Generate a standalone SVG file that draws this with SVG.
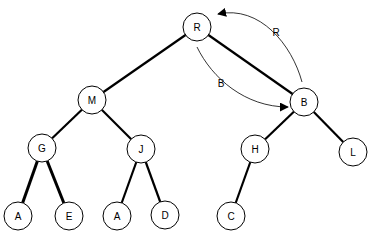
<svg xmlns="http://www.w3.org/2000/svg" width="372" height="233" viewBox="0 0 372 233">
<defs>
<style>
.n circle{fill:#fff;stroke:#000;stroke-width:1}
.n text{font-family:"Liberation Sans",Arial,sans-serif;font-size:10px;text-anchor:middle;fill:#000}
.e{stroke:#000;stroke-width:2.2;fill:none}
.t{stroke:#000;stroke-width:3;fill:none}
.c{stroke:#000;stroke-width:0.8;fill:none}
.lbl{font-family:"Liberation Sans",Arial,sans-serif;font-size:10px;text-anchor:middle;fill:#000}
</style>
<marker id="ah" viewBox="0 0 10 10" refX="9" refY="5" markerWidth="9" markerHeight="9" markerUnits="userSpaceOnUse" orient="auto">
<path d="M0,0 L10,5 L0,10 z" fill="#000"/>
</marker>
</defs>
<rect width="372" height="233" fill="#fff"/>
<g id="connectors">
<line class="e" x1="197" y1="27" x2="92" y2="100"/>
<line class="e" x1="197" y1="27" x2="304" y2="102"/>
<line class="e" x1="92" y1="100" x2="42" y2="148"/>
<line class="e" x1="92" y1="100" x2="141" y2="149"/>
<line class="e" x1="304" y1="102" x2="255" y2="149"/>
<line class="e" x1="304" y1="102" x2="353" y2="152"/>
<line class="t" x1="42" y1="148" x2="18" y2="216"/>
<line class="t" x1="42" y1="148" x2="69" y2="216"/>
<line class="e" x1="141" y1="149" x2="117" y2="216"/>
<line class="e" x1="141" y1="149" x2="165" y2="215"/>
<line class="e" x1="255" y1="149" x2="231" y2="216"/>
<path class="c" d="M302,82 C292,45 260,5 218,14" marker-end="url(#ah)"/>
<path class="c" d="M197,47 C212,78 245,107 288,107" marker-end="url(#ah)"/>
<text class="lbl" x="276" y="36">R</text>
<text class="lbl" x="221" y="87">B</text>
</g>
<g id="nR" class="n"><circle cx="197" cy="27" r="14"/><text x="197" y="31">R</text></g>
<g id="nB" class="n"><circle cx="304" cy="102" r="14"/><text x="304" y="106">B</text></g>
<g id="nM" class="n"><circle cx="92" cy="100" r="14"/><text x="92" y="104">M</text></g>
<g id="nG" class="n"><circle cx="42" cy="148" r="14"/><text x="42" y="152">G</text></g>
<g id="nJ" class="n"><circle cx="141" cy="149" r="14"/><text x="141" y="153">J</text></g>
<g id="nH" class="n"><circle cx="255" cy="149" r="14"/><text x="255" y="153">H</text></g>
<g id="nL" class="n"><circle cx="353" cy="152" r="14"/><text x="353" y="156">L</text></g>
<g id="nA1" class="n"><circle cx="18" cy="216" r="14"/><text x="18" y="220">A</text></g>
<g id="nE" class="n"><circle cx="69" cy="216" r="14"/><text x="69" y="220">E</text></g>
<g id="nA2" class="n"><circle cx="117" cy="216" r="14"/><text x="117" y="220">A</text></g>
<g id="nD" class="n"><circle cx="165" cy="215" r="14"/><text x="165" y="219">D</text></g>
<g id="nC" class="n"><circle cx="231" cy="216" r="14"/><text x="231" y="220">C</text></g>
</svg>
